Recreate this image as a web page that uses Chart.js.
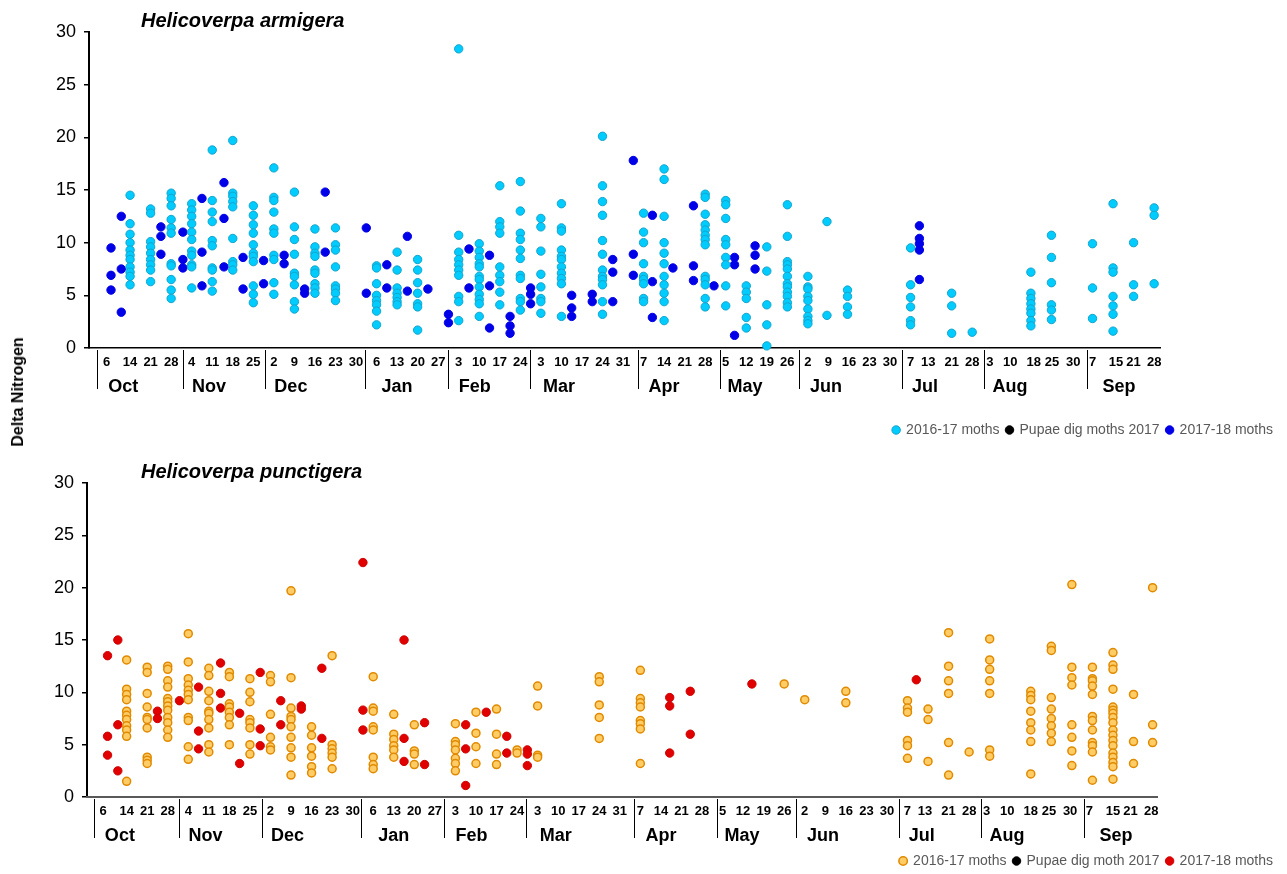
<!DOCTYPE html>
<html>
<head>
<meta charset="utf-8">
<script src="https://cdn.jsdelivr.net/npm/chart.js@4/dist/chart.umd.min.js"></script>
<style>
html,body{margin:0;padding:0;background:#fff;overflow:hidden;width:1287px;height:874px;}
.panel{position:absolute;left:0;width:1287px;}
#p1{top:0;height:447px;}
#p2{top:447px;height:431px;}
.ttl{position:absolute;left:141px;font:italic bold 20px 'Liberation Sans',Arial,sans-serif;color:#000;line-height:24px;white-space:nowrap;}
#t1{top:8px;}
#t2{top:459px;}
#ylab{position:absolute;left:18px;top:392px;transform:translate(-50%,-50%) rotate(-90deg);font:bold 16px 'Liberation Sans',Arial,sans-serif;color:#000;white-space:nowrap;}
</style>
</head>
<body>
<div class="panel" id="p1"><canvas id="c1"></canvas></div>
<div class="panel" id="p2"><canvas id="c2"></canvas></div>
<div class="ttl" id="t1">Helicoverpa armigera</div>
<div class="ttl" id="t2">Helicoverpa punctigera</div>
<div id="ylab">Delta Nitrogen</div>
<script>
// ---- axis definitions (x = days since 1 Oct 2016) ----
const monthNames = ['Oct','Nov','Dec','Jan','Feb','Mar','Apr','May','Jun','Jul','Aug','Sep'];
const monthStartDay = [0,31,61,92,123,151,182,212,243,273,304,335];
const dayTickLabels = [[6,14,21,28],[4,11,18,25],[2,9,16,23,30],[6,13,20,27],[3,10,17,24],[3,10,17,24,31],[7,14,21,28],[5,12,19,26],[2,9,16,23,30],[7,13,21,28],[3,10,18,25,30],[7,15,21,28]];
const dayTickShift = {'Aug 25': -0.8, 'Aug 30': 1.4};
const monthLabelDay = [10.7,39.9,67.8,104,130.5,159.2,195,222.6,250.2,283.9,312.9,350];
const monthSeparatorDay = [1.8,31,59,93,121.2,149.2,186,214,241,276,304,339.2];
const yTicks = [0,5,10,15,20,25,30];

// ---- data: [day since 1 Oct 2016, [delta nitrogen values]] ----
const armigera1617 = [
 [13,[14.5,11.8,10.8,10.0,9.3,8.8,8.4,7.7,7.2,6.8,6.0]],
 [20,[13.2,12.8,10.1,9.6,9.0,8.4,7.9,7.4,6.3]],
 [27,[14.7,14.2,13.5,12.2,11.4,10.9,8.0,7.8,6.5,5.5,4.7]],
 [34,[13.7,13.1,12.5,11.8,11.0,10.3,9.2,8.8,7.9,7.7,5.7]],
 [41,[18.8,14.0,12.9,12.0,10.2,9.7,7.6,7.4,6.3,5.4]],
 [48,[19.7,14.7,14.4,13.9,13.4,10.4,8.2,7.9,7.4]],
 [55,[13.5,12.6,11.7,10.9,9.8,9.0,8.7,8.2,5.9,5.1,4.3]],
 [62,[17.1,14.3,14.0,12.9,11.3,10.9,8.8,8.4,6.2,5.1]],
 [69,[14.8,11.5,10.3,8.9,7.1,6.8,6.0,4.4,3.7]],
 [76,[11.3,9.6,9.0,8.7,7.4,7.1,6.1,5.7,5.2]],
 [83,[11.4,9.8,9.3,7.7,5.9,5.6,5.2,4.5]],
 [97,[7.8,7.6,6.1,5.0,4.5,4.1,3.5,2.2]],
 [104,[9.1,7.4,5.7,5.2,4.8,4.4,4.1]],
 [111,[8.4,7.4,6.2,5.2,4.2,3.9,1.7]],
 [125,[28.4,10.7,9.1,8.4,7.9,7.4,6.9,4.9,4.4,2.6]],
 [132,[9.9,9.2,8.6,8.0,7.7,6.8,6.5,5.8,5.1,4.6,4.2,3.0]],
 [139,[15.4,12.0,11.5,10.9,7.7,6.9,6.3,5.3,4.1]],
 [146,[15.8,13.0,10.9,10.3,9.3,8.5,6.9,6.6,4.7,4.4,3.6]],
 [153,[12.3,11.5,9.2,7.0,5.8,4.7,4.4,3.3]],
 [160,[13.7,11.4,11.1,9.3,8.7,8.4,7.7,7.1,6.6,6.1,3.0]],
 [174,[20.1,15.4,13.9,12.6,10.2,8.9,7.4,6.8,6.5,6.0,4.4,3.2]],
 [188,[12.8,11.0,10.0,8.0,6.8,6.5,6.1,4.7,4.4]],
 [195,[17.0,16.0,12.5,10.0,9.0,8.0,6.8,6.0,5.2,4.4,2.6]],
 [209,[14.6,14.3,12.7,11.7,11.2,10.7,10.3,9.8,6.8,6.5,6.0,4.7,3.9]],
 [216,[14.0,13.6,12.3,10.3,9.8,8.6,7.9,5.9,4.0]],
 [223,[5.9,5.3,4.7,2.9,1.9]],
 [230,[9.6,7.3,4.1,2.2,0.2]],
 [237,[13.6,10.6,8.2,7.9,7.5,6.8,6.1,5.8,5.3,4.9,4.3,3.9]],
 [244,[6.8,5.8,5.6,4.9,4.5,3.7,3.0,2.6,2.3]],
 [250.5,[12.0,3.1]],
 [257.5,[5.5,4.9,3.9,3.2]],
 [279,[9.5,6.0,4.8,3.9,2.6,2.2]],
 [293,[5.2,4.0,1.4]],
 [300,[1.5]],
 [320,[7.2,5.2,4.7,4.2,3.7,3.3,2.6,2.1]],
 [327,[10.7,8.6,6.2,4.1,3.6,2.7]],
 [341,[9.9,5.7,2.8]],
 [348,[13.7,7.6,7.2,4.9,4.0,3.2,1.6]],
 [355,[10.0,6.0,4.9]],
 [362,[13.3,12.6,6.1]]
];
const armigeraPupae = [];
const armigera1718 = [
 [6.5,[9.5,6.9,5.5]],[10,[12.5,7.5,3.4]],[23.5,[11.5,10.6,8.9]],[31,[11.0,8.4,7.6]],
 [37.5,[14.2,9.1,5.9]],[45,[15.7,12.3,7.7]],[51.5,[8.6,5.6]],[58.5,[8.3,6.1]],
 [65.5,[8.8,8.0]],[72.5,[5.6,5.2]],[79.5,[14.8,9.1]],[93.5,[11.4,5.2]],
 [100.5,[7.9,5.7]],[107.5,[10.6,5.4]],[114.5,[5.6]],[121.5,[3.2,2.4]],
 [128.5,[9.4,5.7]],[135.5,[8.8,5.9,1.9]],[142.5,[3.0,2.1,1.4]],[149.5,[5.7,5.1,4.2]],
 [163.5,[5.0,3.8,3.0]],[170.5,[5.1,4.4]],[177.5,[8.4,7.2,4.4]],[184.5,[17.8,8.9,6.9]],
 [191,[12.6,6.3,2.9]],[198,[7.6]],[205,[13.5,7.8,6.4]],[212,[5.9]],
 [219,[8.6,7.9,1.2]],[226,[9.7,8.8,7.5]],[282,[11.6,10.4,9.9,9.3,6.5]]
];
const punctigera1617 = [
 [13,[13.1,10.3,9.8,9.3,8.2,7.8,7.4,6.8,6.4,5.8,1.5]],
 [20,[12.4,11.9,9.9,8.6,7.6,7.4,6.6,3.8,3.5,3.2]],
 [27,[12.5,12.2,11.1,10.5,9.4,9.1,8.7,8.3,7.6,7.1,6.4,5.7]],
 [34,[15.6,12.9,11.3,10.7,10.2,9.8,9.3,7.6,7.3,4.8,3.6]],
 [41,[12.3,11.6,10.1,9.2,8.2,8.0,7.4,6.6,5.0,4.3]],
 [48,[11.9,11.5,8.9,8.6,8.1,7.6,6.9,5.0]],
 [55,[11.3,10.0,9.1,7.4,7.1,6.6,5.0,4.1]],
 [62,[11.6,11.0,7.9,5.7,4.8,4.5]],
 [69,[19.7,11.4,8.5,7.7,7.4,6.7,5.7,4.7,3.8,2.1]],
 [76,[6.7,5.9,4.7,3.9,2.9,2.3]],
 [83,[13.5,5.0,4.6,4.2,3.8,2.7]],
 [97,[11.5,8.5,8.2,6.7,6.4,3.8,3.1,2.7]],
 [104,[7.9,6.0,5.5,4.9,4.5,3.8]],
 [111,[6.9,4.4,4.1,3.1]],
 [125,[7.0,5.3,5.0,4.5,3.7,3.2,2.5]],
 [132,[8.1,6.1,4.8,3.2]],
 [139,[8.4,6.0,4.1,3.1]],
 [146,[4.5,4.2]],
 [153,[10.6,8.7,4.0,3.8]],
 [174,[11.5,11.0,8.8,7.6,5.6]],
 [188,[12.1,9.4,9.0,8.6,7.3,7.0,6.5,3.2]],
 [237,[10.8]],
 [244,[9.3]],
 [258,[10.1,9.0]],
 [279,[9.2,8.5,8.1,5.4,4.9,3.7]],
 [286,[8.4,7.4,3.4]],
 [293,[15.7,12.5,11.1,9.9,5.2,2.1]],
 [300,[4.3]],
 [307,[15.1,13.1,12.2,11.1,9.9,4.5,3.9]],
 [321,[10.1,9.7,9.3,8.2,7.1,6.4,5.3,2.2]],
 [328,[14.4,14.0,9.5,8.4,7.5,6.8,6.1,5.3]],
 [335,[20.3,12.4,11.4,10.7,6.9,5.7,4.4,3.0]],
 [342,[12.4,11.3,11.1,10.6,9.8,7.7,7.3,6.4,5.2,4.9,4.3,1.6]],
 [349,[13.8,12.6,12.2,10.3,8.6,8.3,8.0,7.6,7.1,6.4,5.9,5.4,4.9,4.2,3.8,3.3,2.9,1.7]],
 [356,[9.8,5.3,3.2]],
 [362.5,[20.0,6.9,5.2]]
];
const punctigeraPupae = [];
const punctigera1718 = [
 [6.5,[13.5,5.8,4.0]],[10,[15.0,6.9,2.5]],[23.5,[8.2,7.5]],[31,[9.2]],
 [37.5,[10.5,6.3,4.6]],[45,[12.8,9.9,8.5]],[51.5,[8.0,3.2]],[58.5,[11.9,6.5,4.9]],
 [65.5,[9.2,6.9]],[72.5,[8.7,8.4]],[79.5,[12.3,5.6]],[93.5,[22.4,8.3,6.4]],
 [107.5,[15.0,5.6,3.4]],[114.5,[7.1,3.1]],[128.5,[6.9,4.6,1.1]],[135.5,[8.1]],
 [142.5,[5.8,4.2]],[149.5,[4.5,4.1,3.0]],[198,[9.5,8.7,4.2]],[205,[10.1,6.0]],
 [226,[10.8]],[282,[11.2]]
];

// ---- helpers ----
const toPoints = groups => groups.flatMap(([d, vals]) => vals.map(v => ({x: d, y: v})));
const dayTickValues = [];
const dayTickText = {};
dayTickLabels.forEach((list, m) => list.forEach(d => {
  const key = monthNames[m] + ' ' + d;
  const v = monthStartDay[m] + d - 1 + (dayTickShift[key] || 0);
  dayTickValues.push(v);
  dayTickText[v] = String(d);
}));

const SANS = "'Liberation Sans', Arial, sans-serif";

const separatorPlugin = {
  id: 'monthSeparators',
  afterDraw(chart, args, opts) {
    const xs = chart.scales.x;
    const ctx = chart.ctx;
    ctx.save();
    ctx.strokeStyle = opts.color || '#000';
    ctx.lineWidth = 1;
    monthSeparatorDay.forEach(d => {
      const px = Math.round(xs.getPixelForValue(d)) + 0.5;
      ctx.beginPath();
      ctx.moveTo(px, xs.top + 2);
      ctx.lineTo(px, xs.top + (opts.length || 41));
      ctx.stroke();
    });
    ctx.restore();
  }
};

function series(label, data, fill, stroke, bw, r) {
  return {
    label, data: toPoints(data), showLine: false, clip: false,
    backgroundColor: fill, borderColor: stroke, borderWidth: bw,
    pointBackgroundColor: fill, pointBorderColor: stroke, pointBorderWidth: bw,
    pointRadius: r, pointHoverRadius: r, pointStyle: 'circle'
  };
}

function makeChart(id, datasets, p) {
  return new Chart(document.getElementById(id), {
    type: 'scatter',
    data: { datasets },
    plugins: [separatorPlugin],
    options: {
      responsive: true, maintainAspectRatio: false, animation: false,
      events: [],
      layout: { padding: { top: p.padTop, left: 0, right: 7, bottom: 0 } },
      scales: {
        y: {
          type: 'linear', position: 'left', min: 0, max: 30,
          afterBuildTicks: s => { s.ticks = yTicks.map(v => ({value: v})); },
          afterFit: s => { s.width = p.yWidth; },
          ticks: { font: { family: SANS, size: 18 }, color: '#000', padding: 8 },
          grid: { drawOnChartArea: false, drawTicks: true, tickLength: 5, color: '#000', lineWidth: 1.5 },
          border: { display: true, color: '#000', width: 2 }
        },
        x: {
          type: 'linear', position: 'bottom', min: p.xMin, max: 364, weight: 1,
          afterBuildTicks: s => { s.ticks = dayTickValues.map(v => ({value: v})); },
          afterFit: s => { s.height = 26; },
          ticks: { autoSkip: false, maxRotation: 0, minRotation: 0, padding: 7,
                   font: { family: SANS, size: 13, weight: 'bold' }, color: '#000',
                   callback: v => dayTickText[v] !== undefined ? dayTickText[v] : '' },
          grid: { display: false, drawTicks: false },
          border: { display: true, color: p.xAxisColor, width: p.xAxisWidth }
        },
        x2: {
          type: 'linear', position: 'bottom', min: p.xMin, max: 364, weight: 2,
          afterBuildTicks: s => { s.ticks = monthLabelDay.map(v => ({value: v})); },
          afterFit: s => { s.height = p.x2Height; },
          ticks: { autoSkip: false, maxRotation: 0, minRotation: 0, padding: 2,
                   font: { family: SANS, size: 18, weight: 'bold' }, color: '#000',
                   callback: (v, i) => monthNames[i] },
          grid: { display: false, drawTicks: false },
          border: { display: false }
        },
        r: {
          type: 'linear', position: 'right', display: true,
          afterFit: s => { s.width = p.rightGap; },
          ticks: { display: false }, grid: { display: false, drawTicks: false }, border: { display: false }
        }
      },
      plugins: {
        title: { display: false },
        tooltip: { enabled: false },
        legend: {
          display: true, position: 'bottom', align: 'end',
          labels: { usePointStyle: true, boxWidth: 6, boxHeight: 6, padding: 7,
                    font: { family: SANS, size: 14 }, color: '#595959' }
        },
        monthSeparators: { color: '#000', length: 41 }
      }
    }
  });
}

makeChart('c1', [
  series('2016-17 moths', armigera1617, '#00CCFF', '#12A4CC', 1, 4.2),
  series('Pupae dig moths 2017', armigeraPupae, '#000000', '#000000', 1, 4.2),
  series('2017-18 moths', armigera1718, '#0000E8', '#0000E8', 1, 4.2)
], { padTop: 32, yWidth: 89, x2Height: 42, xMin: -1, rightGap: 120, xAxisColor: '#000', xAxisWidth: 1.5 });

makeChart('c2', [
  series('2016-17 moths', punctigera1617, '#FFCC66', '#E08A00', 1.5, 4),
  series('Pupae dig moth 2017', punctigeraPupae, '#000000', '#000000', 1, 4),
  series('2017-18 moths', punctigera1718, '#E00000', '#D00000', 1, 4.2)
], { padTop: 36, yWidth: 87, x2Height: 24, xMin: -0.5, rightGap: 123, xAxisColor: '#595959', xAxisWidth: 2 });
</script>
</body>
</html>
